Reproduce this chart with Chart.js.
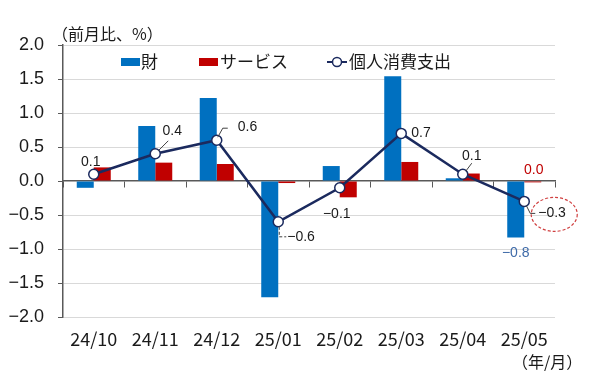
<!DOCTYPE html>
<html>
<head>
<meta charset="utf-8">
<script src="https://cdn.jsdelivr.net/npm/chart.js@4.4.1/dist/chart.umd.min.js"></script>
<style>
  html, body { margin: 0; padding: 0; background: #fff; }
  #wrap { width: 600px; height: 377px; }
</style>
</head>
<body>
<div id="wrap"><canvas id="chart" width="600" height="377"></canvas></div>
<script>
// datos
const categories = ['24/10', '24/11', '24/12', '25/01', '25/02', '25/03', '25/04', '25/05'];
const goods = [-0.10, 0.81, 1.22, -1.71, 0.22, 1.54, 0.04, -0.83];
const services = [0.20, 0.27, 0.25, -0.03, -0.24, 0.28, 0.11, -0.02];
const pce = [0.1, 0.4, 0.6, -0.6, -0.1, 0.7, 0.1, -0.3];
const yTicks = [-2.0, -1.5, -1.0, -0.5, 0.0, 0.5, 1.0, 1.5, 2.0];

const BLUE = '#0070C0';
const RED = '#C00000';
const NAVY = '#1B2A5E';
const LATIN = '"Liberation Sans", Arial, sans-serif';
const CJK = '"Noto Sans CJK JP", "Noto Sans", sans-serif';

const fmt = v => {
    if (Math.round(v * 10) === 0) return '0.0';
    return (v < 0 ? '\u2212' : '') + Math.abs(v).toFixed(1);
};

// etiquetas de la línea: desplazamiento desde el punto y línea guía
const pceLabels = [
    { dx: -3, dy: -12, align: 'center', lead: null },
    { dx: 17, dy: -23, align: 'center', lead: [[3, -3], [13, -13]] },
    { dx: 21, dy: -13, align: 'left', lead: [[1, -3], [6, -12], [11, -12]] },
    { dx: 9, dy: 15, align: 'left', lead: [[1, 5], [1, 15], [8, 15]], dash: true },
    { dx: -3, dy: 26, align: 'center', lead: null },
    { dx: 10, dy: 0, align: 'left', lead: null },
    { dx: 9, dy: -18, align: 'center', lead: [[3, -3], [9, -11]] },
    { dx: 14, dy: 12, align: 'left', lead: [[2, 4], [6, 12], [11, 12]] }
];

const labelsPlugin = {
    id: 'labelsPlugin',
    afterDatasetsDraw(chart) {
        const ctx = chart.ctx;
        const lineMeta = chart.getDatasetMeta(0);
        ctx.save();
        ctx.font = '14px ' + LATIN;
        ctx.textBaseline = 'middle';
        lineMeta.data.forEach((pt, i) => {
            const l = pceLabels[i];
            if (l.lead) {
                ctx.beginPath();
                ctx.strokeStyle = '#404040';
                ctx.lineWidth = 1;
                ctx.setLineDash(l.dash ? [3, 2] : []);
                l.lead.forEach((p, k) => {
                    if (k === 0) ctx.moveTo(pt.x + p[0], pt.y + p[1]);
                    else ctx.lineTo(pt.x + p[0], pt.y + p[1]);
                });
                ctx.stroke();
                ctx.setLineDash([]);
            }
            ctx.fillStyle = '#1a1a1a';
            ctx.textAlign = l.align;
            ctx.fillText(fmt(pce[i]), pt.x + l.dx, pt.y + l.dy);
        });

        // último mes: etiquetas de barras y elipse
        const last = categories.length - 1;
        const gBar = chart.getDatasetMeta(1).data[last];
        const sBar = chart.getDatasetMeta(2).data[last];
        ctx.textAlign = 'center';
        ctx.fillStyle = '#3E6AA8';
        ctx.fillText(fmt(goods[last]), gBar.x, gBar.y + 16);
        ctx.fillStyle = RED;
        ctx.fillText(fmt(services[last]), sBar.x + 1, sBar.y - 12);

        const p = lineMeta.data[last];
        ctx.beginPath();
        ctx.strokeStyle = '#D04040';
        ctx.lineWidth = 1.2;
        ctx.setLineDash([3, 2]);
        ctx.ellipse(p.x + 30, p.y + 13, 23, 17, 0, 0, Math.PI * 2);
        ctx.stroke();
        ctx.restore();
    }
};

const legendPlugin = {
    id: 'legendPlugin',
    afterDraw(chart) {
        const ctx = chart.ctx;
        ctx.save();
        // título del eje Y
        ctx.font = '16px ' + CJK;
        ctx.fillStyle = '#1a1a1a';
        ctx.textBaseline = 'middle';
        ctx.textAlign = 'left';
        ctx.fillText('（前月比、%）', 52, 34);

        // unidad del eje X
        ctx.fillText('（年/月）', 512, 362);

        // leyenda
        const y = 62;
        ctx.font = '17px ' + CJK;
        ctx.fillStyle = BLUE;
        ctx.fillRect(121, y - 4, 19, 8);
        ctx.fillStyle = '#1a1a1a';
        ctx.fillText(chart.data.datasets[1].label, 141, y);
        ctx.fillStyle = RED;
        ctx.fillRect(199, y - 4, 19, 8);
        ctx.fillStyle = '#1a1a1a';
        ctx.fillText(chart.data.datasets[2].label, 220, y);

        ctx.strokeStyle = NAVY;
        ctx.lineWidth = 2;
        ctx.beginPath();
        ctx.moveTo(327, y);
        ctx.lineTo(347, y);
        ctx.stroke();
        ctx.beginPath();
        ctx.fillStyle = '#fff';
        ctx.lineWidth = 1.5;
        ctx.arc(337, y, 4.5, 0, Math.PI * 2);
        ctx.fill();
        ctx.stroke();
        ctx.fillStyle = '#1a1a1a';
        ctx.fillText(chart.data.datasets[0].label, 349, y);
        ctx.restore();
    }
};

const ctxChart = document.getElementById('chart').getContext('2d');
new Chart(ctxChart, {
    type: 'bar',
    data: {
        labels: categories,
        datasets: [
            {
                type: 'line',
                label: '個人消費支出',
                data: pce,
                xAxisID: 'x',
                yAxisID: 'y',
                borderColor: NAVY,
                borderWidth: 2.5,
                pointRadius: 5,
                pointBorderWidth: 1.5,
                pointBackgroundColor: '#fff',
                pointBorderColor: NAVY,
                tension: 0,
                order: 0
            },
            {
                label: '財',
                data: goods,
                xAxisID: 'x',
                yAxisID: 'y',
                backgroundColor: BLUE,
                categoryPercentage: 0.553,
                barPercentage: 1.0,
                order: 1
            },
            {
                label: 'サービス',
                data: services,
                xAxisID: 'x',
                yAxisID: 'y',
                backgroundColor: RED,
                categoryPercentage: 0.553,
                barPercentage: 1.0,
                order: 1
            }
        ]
    },
    options: {
        responsive: false,
        animation: false,
        events: [],
        layout: { padding: { left: 0, top: 45, right: 45, bottom: 0 } },
        plugins: {
            legend: { display: false },
            tooltip: { enabled: false }
        },
        scales: {
            x: {
                type: 'category',
                position: { y: 0 },
                offset: true,
                grid: {
                    offset: true,
                    drawOnChartArea: false,
                    drawTicks: true,
                    tickLength: 6,
                    tickColor: '#595959'
                },
                ticks: { display: false },
                border: { color: '#595959', width: 1.5 }
            },
            x2: {
                type: 'category',
                position: 'bottom',
                offset: true,
                grid: { display: false, drawTicks: false },
                border: { display: false },
                ticks: {
                    font: { family: CJK, size: 18 },
                    color: '#1a1a1a',
                    padding: 11,
                    maxRotation: 0,
                    autoSkip: false
                },
                afterFit: s => { s.height = 60; }
            },
            y: {
                min: -2,
                max: 2,
                afterFit: s => { s.width = 63; },
                afterBuildTicks: s => { s.ticks = yTicks.map(v => ({ value: v })); },
                ticks: {
                    callback: v => fmt(v),
                    font: { family: LATIN, size: 18 },
                    color: '#1a1a1a',
                    padding: 14
                },
                grid: {
                    color: c => (c.tick && c.tick.value === 0) ? 'rgba(0,0,0,0)' : '#d9d9d9',
                    tickColor: '#595959',
                    tickLength: 5,
                    lineWidth: 1
                },
                border: { color: '#595959', width: 1.5 }
            }
        }
    },
    plugins: [labelsPlugin, legendPlugin]
});
</script>
</body>
</html>
